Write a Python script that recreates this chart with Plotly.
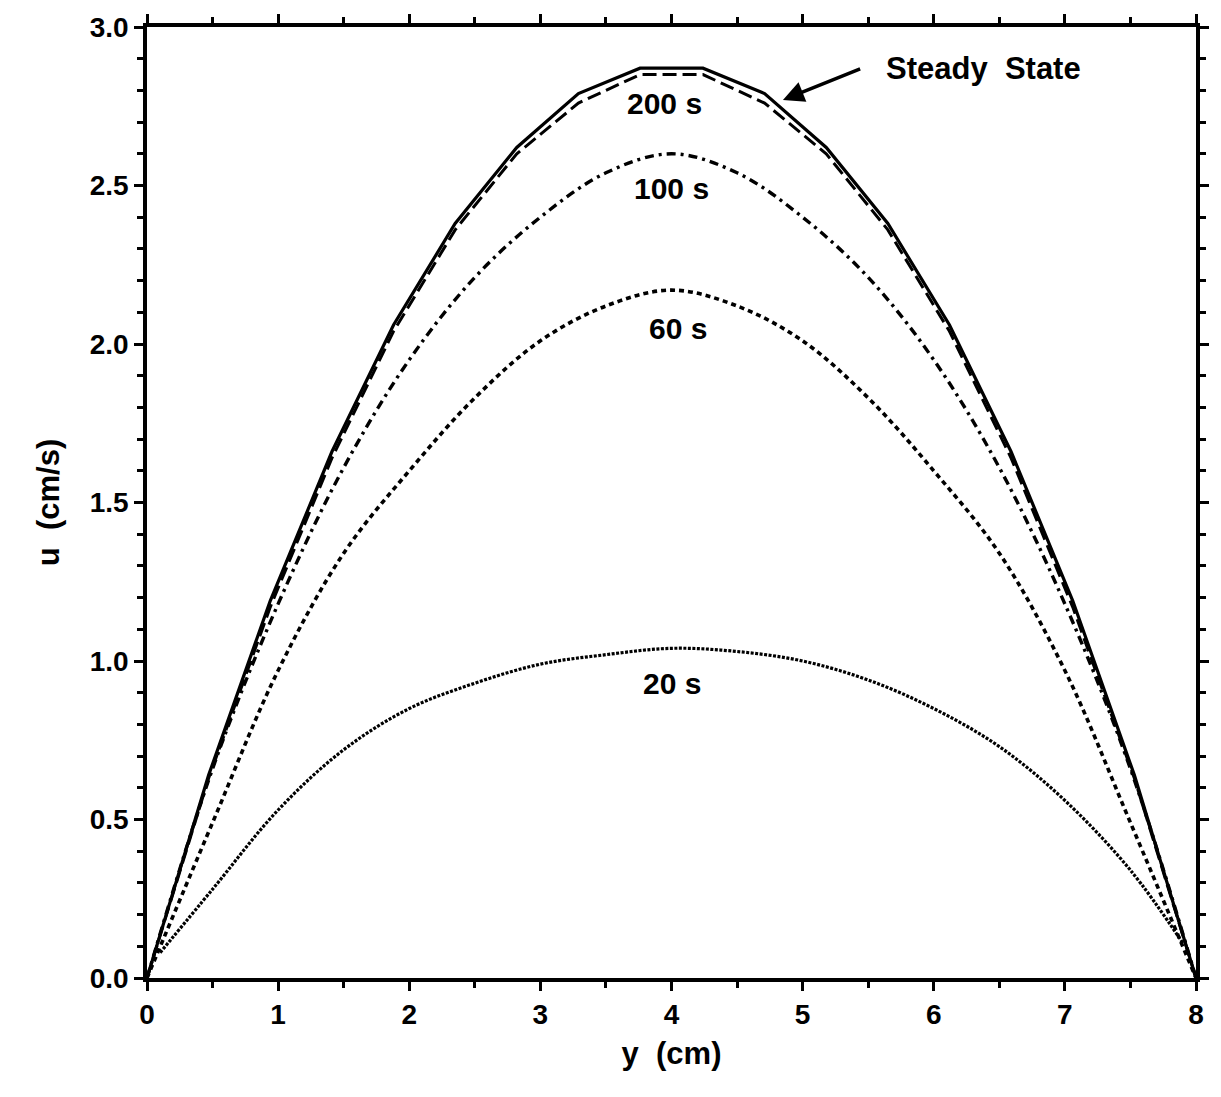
import plotly.graph_objects as go

# ---- data ----
y_nodes = [0.0, 0.47, 0.94, 1.41, 1.88, 2.35, 2.82, 3.29, 3.76,
           4.24, 4.71, 5.18, 5.65, 6.12, 6.59, 7.06, 7.53, 8.0]
u_steady = [0.0, 0.64, 1.19, 1.66, 2.06, 2.38, 2.62, 2.79, 2.87,
            2.87, 2.79, 2.62, 2.38, 2.06, 1.66, 1.19, 0.64, 0.0]
u_200 = [0.0, 0.63, 1.17, 1.64, 2.04, 2.36, 2.60, 2.76, 2.85,
         2.85, 2.76, 2.60, 2.36, 2.04, 1.64, 1.17, 0.63, 0.0]

y_half = [0.0, 0.5, 1.0, 1.5, 2.0, 2.5, 3.0, 3.5, 4.0,
          4.5, 5.0, 5.5, 6.0, 6.5, 7.0, 7.5, 8.0]
u_100 = [0.0, 0.66, 1.18, 1.61, 1.95, 2.21, 2.40, 2.54, 2.60,
         2.54, 2.40, 2.21, 1.95, 1.61, 1.18, 0.66, 0.0]
u_60 = [0.0, 0.49, 0.97, 1.34, 1.60, 1.83, 2.01, 2.12, 2.17,
        2.12, 2.01, 1.83, 1.60, 1.34, 0.97, 0.49, 0.0]

y_20 = [0.1, 0.5, 1.0, 1.5, 2.0, 2.5, 3.0, 3.5, 4.0,
        4.5, 5.0, 5.5, 6.0, 6.5, 7.0, 7.5, 7.9]
u_20 = [0.08, 0.28, 0.53, 0.72, 0.85, 0.93, 0.99, 1.02, 1.04,
        1.03, 1.00, 0.94, 0.85, 0.73, 0.56, 0.34, 0.11]

labels = ["200 s", "100 s", "60 s", "20 s"]
label_x = [3.95, 4.0, 4.05, 4.0]
label_u = [2.76, 2.49, 2.05, 0.93]

x_ticks = [0, 1, 2, 3, 4, 5, 6, 7, 8]
u_ticks = [0.0, 0.5, 1.0, 1.5, 2.0, 2.5, 3.0]

FONT = "Liberation Sans, Arial, sans-serif"
BLACK = "#000000"

fig = go.Figure()
fig.add_trace(go.Scatter(x=y_nodes, y=u_steady, mode="lines",
                         line=dict(color=BLACK, width=3.2)))
fig.add_trace(go.Scatter(x=y_nodes, y=u_200, mode="lines",
                         line=dict(color=BLACK, width=3, dash="14px,6px")))
fig.add_trace(go.Scatter(x=y_half, y=u_100, mode="lines", line_shape="spline",
                         line=dict(color=BLACK, width=3.4, dash="9px,5px,3px,5px")))
fig.add_trace(go.Scatter(x=y_half, y=u_60, mode="lines", line_shape="spline",
                         line=dict(color=BLACK, width=3.6, dash="5px,4px")))
fig.add_trace(go.Scatter(x=y_20, y=u_20, mode="lines", line_shape="spline",
                         line=dict(color=BLACK, width=3.2, dash="3px,1.5px")))

for t, xx, uu in zip(labels, label_x, label_u):
    fig.add_annotation(x=xx, y=uu, text=t, showarrow=False,
                       font=dict(family=FONT, size=30, color=BLACK, weight="bold"))

fig.add_annotation(x=6.38, y=2.87, text="Steady  State", showarrow=False,
                   font=dict(family=FONT, size=31, color=BLACK, weight="bold"))
fig.add_annotation(x=4.85, y=2.77, ax=5.45, ay=2.87, axref="x", ayref="y",
                   text="", showarrow=True, arrowhead=2, arrowsize=1.2,
                   arrowwidth=3.5, arrowcolor=BLACK, standoff=0)

axis_common = dict(showline=True, linecolor=BLACK, linewidth=3.5, mirror="ticks",
                   ticks="outside", tickcolor=BLACK, tickwidth=3, ticklen=9,
                   showgrid=False, zeroline=False,
                   tickfont=dict(family=FONT, size=28, color=BLACK, weight="bold"))

fig.update_xaxes(range=[0, 8], tickvals=x_ticks,
                 minor=dict(dtick=0.5, ticks="outside", ticklen=6, tickwidth=3,
                            tickcolor=BLACK, showgrid=False),
                 title=dict(text="y  (cm)",
                            font=dict(family=FONT, size=31, color=BLACK, weight="bold"),
                            standoff=14),
                 **axis_common)
fig.update_yaxes(range=[0, 3], tickvals=u_ticks, tickformat=".1f",
                 minor=dict(dtick=0.1, ticks="outside", ticklen=6, tickwidth=3,
                            tickcolor=BLACK, showgrid=False),
                 title=dict(text="u  (cm/s)",
                            font=dict(family=FONT, size=31, color=BLACK, weight="bold"),
                            standoff=22),
                 **axis_common)

fig.update_layout(width=1221, height=1097, showlegend=False,
                  plot_bgcolor="white", paper_bgcolor="white",
                  margin=dict(l=147, r=23, t=25, b=119))

fig.write_html("out.html")
